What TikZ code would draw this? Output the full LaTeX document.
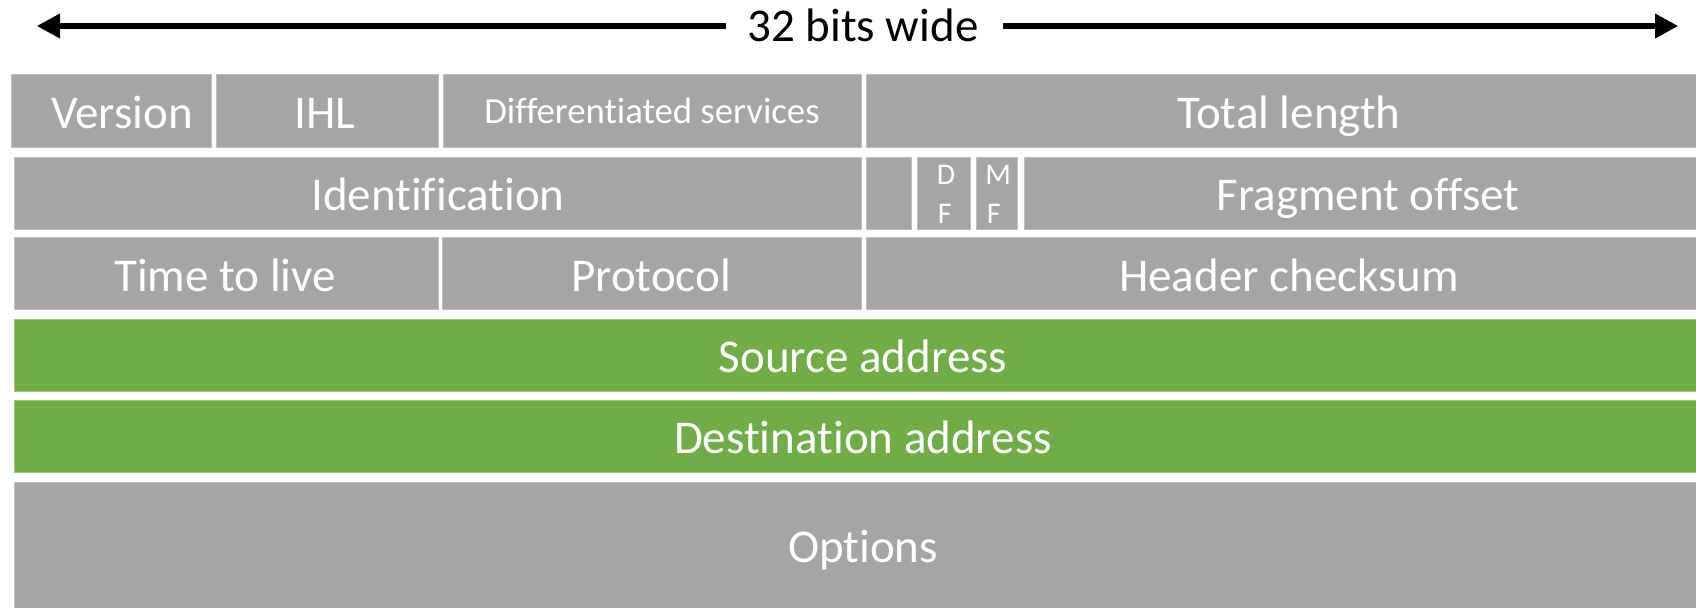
\documentclass[tikz,border=0pt]{standalone}
\usepackage{fontspec}
\setmainfont[Ligatures=NoCommon]{Carlito}
\usetikzlibrary{arrows.meta}
\definecolor{fieldgray}{HTML}{A5A5A5}
\definecolor{fieldgreen}{HTML}{70AD47}
\begin{document}
\begin{tikzpicture}[x=0.5pt,y=-0.5pt,
  graybox/.style={fill=fieldgray,draw=fieldgray!70!white,line width=0.5pt},
  greenbox/.style={fill=fieldgreen,draw=fieldgreen!70!white,line width=0.5pt},
  lbl/.style={anchor=base,inner sep=0pt,text=white,font=\fontsize{23.5}{28}\selectfont},
  smalllbl/.style={anchor=base,inner sep=0pt,text=white,font=\fontsize{18.4}{22}\selectfont},
  tinylbl/.style={anchor=base west,inner sep=0pt,text=white,font=\fontsize{15}{18}\selectfont},
  widthlbl/.style={anchor=base,inner sep=0pt,text=black,font=\fontsize{23.5}{28}\selectfont},
  widtharrow/.style={line width=3.35pt,-{Triangle[length=11.65pt,width=11.65pt]}}]
\clip (0,0) rectangle (1696,608);
\fill[white] (0,0) rectangle (1696,608);
% row 1
\path[graybox] (11,75) rectangle (211.5,147.5);
\path[graybox] (216,75) rectangle (438.3,147.5);
\path[graybox] (443,75) rectangle (861,147.5);
\path[graybox] (866,75) rectangle (1712,147.5);
% row 2
\path[graybox] (14,157.3) rectangle (861.7,229.3);
\path[graybox] (866,157.3) rectangle (911.5,229.3);
\path[graybox] (917.7,157.3) rectangle (970,229.3);
\path[graybox] (976,157.3) rectangle (1017.7,229.3);
\path[graybox] (1024,157.3) rectangle (1712,229.3);
% row 3
\path[graybox] (14,238) rectangle (438,310);
\path[graybox] (442.5,238) rectangle (861.7,310);
\path[graybox] (866,238) rectangle (1712,310);
% rows 4-6
\path[greenbox] (14,320) rectangle (1712,392);
\path[greenbox] (14,400.7) rectangle (1712,473);
\path[graybox] (14,482.3) rectangle (1712,640);
% labels
\node[lbl] (version) at (122,128.3) {Version};
\node[lbl] (ihl) at (325,128.3) {IHL};
\node[smalllbl] (ds) at (652,123.3) {Differentiated services};
\node[lbl] (total) at (1289,128.3) {Total length};
\node[lbl] (ident) at (438,210.3) {Identification};
\node[tinylbl] (dfd) at (936.5,185) {D};
\node[tinylbl] (dff) at (937.5,223.3) {F};
\node[tinylbl] (mfm) at (985,185) {M};
\node[tinylbl] (mff) at (986.5,223.3) {F};
\node[lbl] (frag) at (1368,210.3) {Fragment offset};
\node[lbl] (ttl) at (225,291.3) {Time to live};
\node[lbl] (proto) at (651,291.3) {Protocol};
\node[lbl] (cksum) at (1289,291.3) {Header checksum};
\node[lbl] (src) at (863,373) {Source address};
\node[lbl] (dst) at (863,454) {Destination address};
\node[lbl] (opts) at (863,562) {Options};
% width arrow
\node[widthlbl] (title) at (863,41.7) {32 bits wide};
\coordinate (L) at (36.7,26);
\coordinate (R) at (1678.3,26);
\coordinate (LS) at (726,26);
\coordinate (RS) at (1003,26);
\draw[widtharrow] (LS) -- (L);
\draw[widtharrow] (RS) -- (R);
\end{tikzpicture}
\end{document}
